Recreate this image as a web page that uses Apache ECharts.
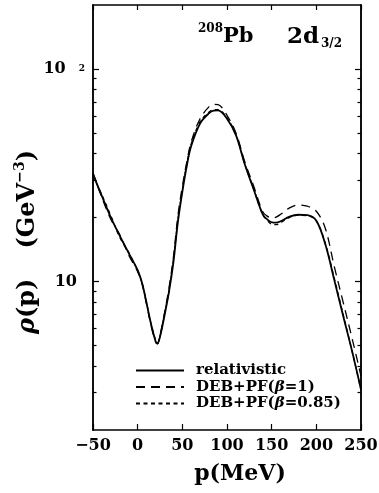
<!DOCTYPE html>
<html>
<head>
<meta charset="utf-8">
<script src="https://cdn.jsdelivr.net/npm/echarts@6/dist/echarts.min.js"></script>
<style>
  html, body { margin: 0; padding: 0; background: #fff; }
  #main { width: 379px; height: 493px; }
</style>
</head>
<body>
<div id="main"></div>
<script>
// momentum grid (MeV)
const pValues = [-50, -40, -30, -20, -10, 0, 5, 10, 15, 20, 22, 25, 30, 35, 40, 45, 50, 55, 60, 70, 80, 85, 90,
  100, 110, 120, 130, 140, 145, 150, 155, 160, 170, 180, 190, 200, 210, 220, 230, 240, 250];
// rho(p) in GeV^-3
const relativistic = [32, 25.2, 20, 16.4, 13.6, 11.3, 9.8, 7.9, 6.3, 5.25, 5.1, 5.5, 6.9, 8.9, 12.3, 19, 26.4, 35, 43.5, 55.5, 62, 63.6, 63.8,
  58.3, 48.8, 35.5, 27, 20.7, 19.6, 19.0, 18.9, 19.2, 20.2, 20.6, 20.5, 19.3, 15.0, 10.2, 6.9, 4.7, 3.1];
const debBeta1 = [32.5, 24.8, 19.6, 16.6, 13.3, 11.1, 9.7, 7.8, 6.2, 5.2, 5.1, 5.6, 7.1, 9.3, 13, 20.3, 28, 36.5, 45.5, 58.5, 66.5, 68.2, 68,
  60.5, 50, 36.5, 28, 21.3, 20.3, 19.9, 20.1, 20.7, 22.2, 22.9, 22.6, 21.4, 17.8, 11.8, 8.0, 5.4, 3.6];
const debBeta085 = [31.5, 25.5, 20.4, 16.1, 13.7, 11.2, 9.8, 7.9, 6.3, 5.3, 5.1, 5.5, 7.0, 9.0, 12.6, 19.5, 27, 35.8, 44.5, 56.5, 62.8, 64.3, 64.3,
  58.8, 49.2, 35.7, 27.2, 20.6, 19.4, 18.6, 18.5, 18.9, 20.0, 20.5, 20.4, 19.3, 15.1, 10.4, 7.0, 4.7, 3.1];

const seriesNames = ['relativistic', 'DEB+PF(β=1)', 'DEB+PF(β=0.85)'];
const yMajor = [10, 100];
const yMinor = [3, 4, 5, 6, 7, 8, 9, 20, 30, 40, 50, 60, 70, 80, 90];
const yRange = [2, 200];

const serif = 'DejaVu Serif';
const myChart = echarts.init(document.getElementById('main'));

const toPts = arr => pValues.map((p, i) => [p, Math.log10(arr[i])]);
const lg = v => Math.log10(v);

function yAxisDef(pos, vals, len, showLabel) {
  return {
    type: 'value',
    position: pos,
    min: lg(yRange[0]),
    max: lg(yRange[1]),
    axisLine: { show: true, onZero: false, lineStyle: { color: '#000', width: 1.5 } },
    axisTick: { show: true, inside: true, length: len, customValues: vals.map(lg), lineStyle: { color: '#000', width: 1.2 } },
    axisLabel: showLabel ? {
      show: true,
      margin: 8,
      customValues: vals.map(lg),
      formatter: v => (Math.abs(v - 2) < 1e-6 ? '{b|10}{g|}{s|2}' : '{b|10}{g2|}'),
      rich: {
        b: { fontFamily: serif, fontWeight: 'bold', fontSize: 16, color: '#000', lineHeight: 16 },
        g: { width: 13 },
        g2: { width: 8 },
        s: { fontFamily: serif, fontWeight: 'bold', fontSize: 9, color: '#000', verticalAlign: 'top', lineHeight: 16, padding: [3, 0, 0, 0] }
      }
    } : { show: false },
    splitLine: { show: false }
  };
}

function xAxisDef(pos, showLabel, len) {
  return {
    type: 'value',
    position: pos,
    min: -50,
    max: 250,
    interval: 50,
    axisLine: { show: true, onZero: false, lineStyle: { color: '#000', width: 1.5 } },
    axisTick: { show: true, inside: true, length: len, lineStyle: { color: '#000', width: 1.2 } },
    axisLabel: showLabel ? {
      show: true, margin: 8, color: '#000', fontFamily: serif, fontWeight: 'bold', fontSize: 16,
      formatter: v => (v < 0 ? '\u2212' + Math.abs(v) : String(v))
    } : { show: false },
    splitLine: { show: false }
  };
}

const betaRich = {
  n: { fontFamily: serif, fontWeight: 'bold', fontSize: 15, color: '#000', lineHeight: 15 },
  i: { fontFamily: serif, fontWeight: 'bold', fontStyle: 'italic', fontSize: 15, color: '#000', lineHeight: 15 }
};

const option = {
  animation: false,
  backgroundColor: '#fff',
  grid: { left: 93, right: 18, top: 5, bottom: 63, containLabel: false, outerBoundsMode: 'none' },
  xAxis: [xAxisDef('bottom', true, 6), xAxisDef('top', false, 5)],
  yAxis: [
    yAxisDef('left', yMajor, 6, true),
    yAxisDef('left', yMinor, 3.5, false),
    yAxisDef('right', yMajor, 6, false),
    yAxisDef('right', yMinor, 3.5, false)
  ],
  legend: {
    orient: 'vertical',
    left: 135,
    top: 363,
    itemWidth: 48,
    itemHeight: 14,
    itemGap: 1.5,
    padding: 0,
    data: seriesNames,
    itemStyle: { opacity: 0 },
    formatter: name => {
      if (name === 'relativistic') return '{n|relativistic}';
      const b = name.match(/=(.*)\)/)[1];
      return '{n|DEB+PF(}{i|β}{n|=' + b + ')}';
    },
    textStyle: { padding: [0, 0, 0, 7], rich: betaRich }
  },
  series: [
    {
      name: seriesNames[0], type: 'line', data: toPts(relativistic), symbol: 'none', smooth: 0.35,
      lineStyle: { color: '#000', width: 1.8, type: 'solid' }, itemStyle: { color: '#000' }, z: 3
    },
    {
      name: seriesNames[1], type: 'line', data: toPts(debBeta1), symbol: 'none', smooth: 0.35,
      lineStyle: { color: '#000', width: 1.3, type: [9, 6] }, itemStyle: { color: '#000' }
    },
    {
      name: seriesNames[2], type: 'line', data: toPts(debBeta085), symbol: 'none', smooth: 0.35,
      lineStyle: { color: '#000', width: 1.3, type: [4, 3.5] }, itemStyle: { color: '#000' }
    }
  ],
  graphic: [
    { type: 'text', x: 198, y: 28.5, style: { text: '208', fontFamily: serif, fontWeight: 'bold', fontSize: 12, fill: '#000', textAlign: 'left', align: 'left', textVerticalAlign: 'middle', verticalAlign: 'middle' } },
    { type: 'text', x: 223, y: 37, style: { text: 'Pb', fontFamily: serif, fontWeight: 'bold', fontSize: 21, fill: '#000', textAlign: 'left', align: 'left', textVerticalAlign: 'middle', verticalAlign: 'middle' } },
    { type: 'text', x: 287, y: 37, style: { text: '2d', fontFamily: serif, fontWeight: 'bold', fontSize: 23, fill: '#000', textAlign: 'left', align: 'left', textVerticalAlign: 'middle', verticalAlign: 'middle' } },
    { type: 'text', x: 321, y: 44, style: { text: '3/2', fontFamily: serif, fontWeight: 'bold', fontSize: 12, fill: '#000', textAlign: 'left', align: 'left', textVerticalAlign: 'middle', verticalAlign: 'middle' } },
    { type: 'text', x: 240, y: 474, style: { text: 'p(MeV)', fontFamily: serif, fontWeight: 'bold', fontSize: 22, fill: '#000', textAlign: 'center', align: 'center', textVerticalAlign: 'middle', verticalAlign: 'middle' } },
    {
      type: 'text', x: 28, y: 242, rotation: Math.PI / 2,
      style: {
        text: '{i|ρ}{n|(p)}{gap|}{n|(GeV}{s|\u22123}{n|)}',
        textAlign: 'center', align: 'center', textVerticalAlign: 'middle', verticalAlign: 'middle',
        rich: {
          n: { fontFamily: serif, fontWeight: 'bold', fontSize: 24, fill: '#000', color: '#000', lineHeight: 30 },
          i: { fontFamily: serif, fontWeight: 'bold', fontStyle: 'italic', fontSize: 24, fill: '#000', color: '#000', lineHeight: 30 },
          s: { fontFamily: serif, fontWeight: 'bold', fontSize: 14, fill: '#000', color: '#000', verticalAlign: 'top', lineHeight: 30 },
          gap: { width: 30 }
        }
      }
    }
  ]
};

myChart.setOption(option, true);
</script>
</body>
</html>
